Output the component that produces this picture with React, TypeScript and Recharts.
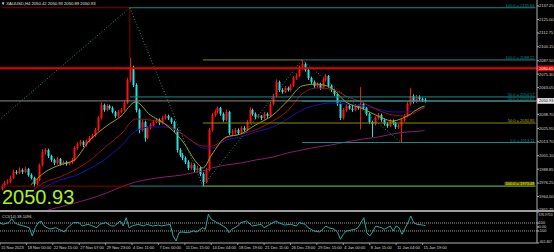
import React from 'react';
import { ComposedChart, Bar, Line, XAxis, YAxis, ReferenceLine } from 'recharts';

const FONT = 'Liberation Sans, Arial, sans-serif';

// ---------- candle data (H4 bars) ----------
const firstOpen = 1971.0;
const closes = [
  1973.6, 1976.3, 1977.2, 1980.9, 1986.3, 1985.4, 1988.1, 1986.3, 1989.0, 1983.6,
  1980.9, 1975.4, 1979.0, 1992.7, 2004.5, 2006.3, 2000.9, 1997.2, 1994.5, 1998.1,
  1993.6, 1995.4, 1993.6, 1994.5, 1997.2, 2008.1, 2011.8, 2013.6, 2010.9, 2014.5,
  2017.2, 2019.5, 2024.5, 2035.4, 2047.2, 2042.7, 2046.3, 2044.5, 2040.9, 2037.2,
  2040.9, 2042.7, 2049.1, 2070.0, 2080.9, 2065.4, 2042.7, 2024.5, 2031.8, 2017.2,
  2026.3, 2029.0, 2031.8, 2033.6, 2030.9, 2035.4, 2037.2, 2035.0, 2031.8, 2024.5,
  2006.3, 2001.8, 1999.0, 1995.4, 1989.9, 1992.7, 1988.1, 1989.9, 1984.5, 1977.2,
  1988.1, 2024.5, 2038.1, 2040.9, 2044.5, 2039.1, 2033.6, 2040.9, 2021.8, 2022.7,
  2024.5, 2021.8, 2026.3, 2024.5, 2031.8, 2042.7, 2039.1, 2036.3, 2037.5, 2035.4,
  2039.1, 2037.2, 2048.1, 2055.4, 2068.1, 2060.9, 2059.1, 2062.7, 2060.9, 2064.5,
  2071.8, 2073.6, 2080.9, 2084.5, 2079.1, 2071.8, 2068.1, 2064.5, 2066.3, 2062.7,
  2070.0, 2073.6, 2064.5, 2060.9, 2057.2, 2048.1, 2035.4, 2042.7, 2046.3, 2044.0,
  2042.7, 2046.3, 2044.5, 2048.1, 2044.5, 2039.1, 2031.8, 2030.0, 2035.4, 2038.1,
  2033.6, 2030.0, 2028.1, 2032.7, 2030.9, 2027.2, 2028.1, 2033.6, 2037.2, 2048.1,
  2055.4, 2050.0, 2054.5, 2052.7, 2051.8, 2050.93,
];
const highs = [
  1975, 1978, 1979.5, 1983, 1988.5, 1988, 1990.5, 1989.5, 1991, 1990,
  1985, 1982, 1980.5, 1994, 2007, 2008, 2007.5, 2002, 1998.5, 2000,
  1999, 1997, 1996.5, 1996, 1999, 2010, 2013.5, 2015.5, 2015, 2016,
  2019, 2021, 2026.5, 2037, 2049.5, 2048.5, 2048, 2047.5, 2046, 2042,
  2042.5, 2044.5, 2051, 2072, 2090, 2083, 2067, 2044, 2034, 2033,
  2028, 2031, 2033.5, 2035.5, 2035, 2037.5, 2039, 2038.5, 2036, 2033,
  2026, 2008, 2003.5, 2000.5, 1997, 1995, 1994, 1992, 1991, 1986,
  1990, 2026.5, 2040, 2043, 2046, 2045.5, 2040.5, 2043, 2042, 2025,
  2026.5, 2026, 2028, 2028, 2033.5, 2045, 2044, 2040.5, 2039, 2038,
  2041, 2040.5, 2050, 2057.5, 2070.5, 2069.5, 2062.5, 2064.5, 2064, 2066.5,
  2073.5, 2076, 2083, 2088.2, 2086, 2080.5, 2073, 2069.5, 2068, 2067.5,
  2072, 2075.5, 2074.5, 2066, 2062, 2058.5, 2049.5, 2044.5, 2048, 2047.5,
  2047.5, 2048, 2047.5, 2063.5, 2049.5, 2045.5, 2040.5, 2033, 2037, 2040,
  2039.5, 2035, 2031.5, 2034.5, 2034, 2032, 2030, 2035, 2039, 2050,
  2062.5, 2057, 2056.5, 2056, 2054, 2053.5,
];
const lows = [
  1969.5, 1972, 1975, 1976, 1980, 1984, 1984.5, 1984.5, 1985.5, 1982,
  1979.5, 1972.5, 1974, 1978, 1991.5, 2002, 1999, 1995.5, 1992.5, 1993,
  1992, 1992.5, 1992, 1992.5, 1993.5, 1996, 2006.5, 2010, 2009, 2009.5,
  2013, 2016.5, 2018, 2023.5, 2034, 2041, 2041.5, 2043, 2039.5, 2035.5,
  2036, 2039.5, 2041.5, 2048, 2068, 2063.5, 2040.5, 2021.5, 2023, 2014,
  2016, 2025, 2027.5, 2030.5, 2029, 2029.5, 2034, 2033.5, 2030, 2022.5,
  2004, 2000, 1997, 1993.5, 1988, 1988.5, 1986, 1986.5, 1982.5, 1973.5,
  1976, 1987, 2023, 2036.5, 2039.5, 2037.5, 2032, 2032.5, 2020, 2020,
  2021, 2020, 2020.5, 2023, 2023.5, 2030.5, 2037.5, 2034.5, 2035, 2033.5,
  2034, 2035.5, 2036, 2047, 2054, 2059, 2057.5, 2058, 2059.5, 2059.5,
  2063.5, 2070, 2072.5, 2079.5, 2077.5, 2070, 2066.5, 2062.5, 2063, 2061,
  2061.5, 2068.5, 2063, 2059, 2055.5, 2046.5, 2033.5, 2034, 2041, 2043,
  2041, 2041.5, 2043, 2025, 2043, 2037.5, 2030, 2018, 2028.5, 2034,
  2032, 2028.5, 2026.5, 2027, 2029, 2025.5, 2025.5, 2013.1, 2032, 2036,
  2047, 2048.5, 2049, 2051, 2050, 2049.5,
];

// ---------- moving averages (read at sample bars) ----------
const maIdx = [0, 5, 10, 15, 20, 25, 30, 36, 41, 46, 51, 56, 62, 67, 69, 72, 77, 82, 87, 93, 98, 103, 108, 113, 118, 124, 129, 134, 139, 144, 145];
const maFast = [null, null, 1974.5, 1986.3, 1992.7, 1997.2, 2014.5, 2028.1, 2037.2, 2050.0, 2038.1, 2030.0, 2014.5, 1994.5, 1989.9, 2001.8, 2018.1, 2020.9, 2029.0, 2038.1, 2050.9, 2064.5, 2066.3, 2062.7, 2050.0, 2043.6, 2037.2, 2032.7, 2037.2, 2045.4, 2046.3];
const maMid = [null, null, 1968.1, 1977.2, 1981.8, 1988.1, 1996.3, 2009.9, 2020.9, 2034.5, 2033.6, 2030.0, 2020.9, 2011.8, 2009.9, 2009.9, 2017.2, 2020.9, 2024.5, 2032.7, 2041.8, 2057.2, 2062.7, 2061.8, 2055.4, 2049.1, 2042.7, 2038.1, 2037.2, 2043.6, 2044.5];
const maSlow = [null, null, 1964.5, 1972.7, 1979.0, 1982.7, 1989.0, 1999.0, 2009.9, 2023.6, 2027.2, 2027.2, 2020.9, 2010.9, 2008.1, 2008.1, 2015.4, 2018.1, 2022.7, 2027.2, 2034.5, 2042.7, 2047.2, 2049.1, 2048.1, 2046.3, 2043.6, 2040.9, 2040.9, 2044.5, 2045.4];
const maLong = [null, null, null, 1951.0, 1954.5, 1958.1, 1961.7, 1967.2, 1972.7, 1977.2, 1979.9, 1981.8, 1983.6, 1986.3, 1987.2, 1989.9, 1992.7, 1994.5, 1997.2, 1999.9, 2003.6, 2006.3, 2009.0, 2010.9, 2013.6, 2016.3, 2018.1, 2020.9, 2022.7, 2023.6, 2024.5];

// ---------- CCI(14) ----------
const cciIdx = [0, 1, 3, 4, 5, 6, 8, 10, 11, 12, 13, 14, 15, 17, 19, 20, 22, 23, 25, 27, 28, 30, 33, 34, 36, 38, 39, 41, 42, 43, 44, 45, 47, 49, 50, 52, 54, 55, 58, 59, 60, 61, 62, 64, 66, 67, 69, 70, 71, 72, 74, 75, 77, 78, 79, 81, 82, 84, 86, 89, 90, 92, 94, 95, 97, 99, 101, 102, 104, 105, 107, 109, 111, 112, 114, 115, 116, 117, 118, 121, 122, 123, 124, 125, 126, 127, 128, 130, 131, 133, 134, 135, 136, 137, 139, 140, 141, 142, 144, 145];
const cciVal = [108, 68, 108, 208, 108, 68, 25, -18, -226, -18, 108, 151, 25, -51, -18, -58, -126, -18, 108, 108, 25, 68, -18, 68, 108, 25, 25, 151, 25, 234, -18, 25, 68, 25, 68, 25, 48, 25, 68, -226, -352, -144, -126, -144, -101, -126, -18, -58, 319, 193, 108, 68, -18, -144, -58, 25, 108, 151, 25, 68, -18, 68, 151, 108, 48, 68, 25, 108, 68, -18, -101, -126, 25, -18, -58, -126, -309, -184, -101, -58, -18, 108, 234, -144, -226, -126, 25, -18, -58, 25, -101, 25, -18, -184, 108, 276, 108, 68, 48, 38.11];

// ---------- axes ----------
const priceTicks = [2137.25, 2125.0, 2112.75, 2100.15, 2087.5, 2075.3, 2063.05, 2038.7, 2025.95, 2013.7, 2001.1, 1988.85, 1976.25, 1964.0, 1951.75];
const timeIdx = [0, 9, 18, 27, 36, 45, 54, 63, 72, 81, 90, 99, 108, 117, 126, 135, 144];
const timeLabels = ['15 Nov 2023', '18 Nov 00:00', '22 Nov 15:00', '27 Nov 07:00', '29 Nov 23:00', '4 Dec 11:00', '7 Dec 00:00', '11 Dec 15:00', '14 Dec 04:00', '18 Dec 19:00', '21 Dec 11:00', '26 Dec 23:00', '29 Dec 15:00', '4 Jan 00:00', '8 Jan 15:00', '11 Jan 04:00', '15 Jan 19:00'];
const cciTicks = [376.9753, 100, 0, -100, -402.467];
const cciTickLabels = ['376.9753', '100', '0.00', '-100', '-402.467'];
const TOTAL = 184;
const LAST = TOTAL - 1;

// ---------- drawing objects (price levels) ----------
const fibHigh = 2135.66;
const fibLow = 1973.48;
const swingHigh = 2088.22;
const swingLow = 2013.11;
const fibA50 = 2054.57;
const fibC50 = 2050.67;
const fibB50 = 2030.85;
const redLevel = 2080.65;
const lastPrice = 2050.93;
const trendStart = 2035.4;
const peakWickTop = 2090.0;

const rows: any[] = Array.from({ length: TOTAL }, (_, i) => {
  const r: any = { idx: i };
  if (i < closes.length) {
    r.o = i === 0 ? firstOpen : closes[i - 1];
    r.c = closes[i];
    r.h = highs[i];
    r.l = lows[i];
    r.range = [lows[i], highs[i]];
  }
  return r;
});
maIdx.forEach((k, n) => {
  if (maFast[n] != null) rows[k].maFast = maFast[n];
  if (maMid[n] != null) rows[k].maMid = maMid[n];
  if (maSlow[n] != null) rows[k].maSlow = maSlow[n];
  if (maLong[n] != null) rows[k].maLong = maLong[n];
});
cciIdx.forEach((k, n) => {
  rows[k].cci = cciVal[n];
});

const Candle = (props: any) => {
  let { x, y, width, height } = props;
  const p = props.payload;
  if (!p || p.c == null || !height) return <g />;
  if (height < 0) {
    y += height;
    height = -height;
  }
  const k = height / (p.h - p.l);
  const cx = Math.round(x + width / 2) + 0.5;
  const yO = y + (p.h - p.o) * k;
  const yC = y + (p.h - p.c) * k;
  const up = p.c >= p.o;
  const color = up ? '#ff1010' : '#22e2e2';
  const top = Math.min(yO, yC);
  const bh = Math.max(1, Math.abs(yC - yO));
  return (
    <g>
      <line x1={cx} x2={cx} y1={y} y2={y + height} stroke={color} strokeWidth={1} />
      <rect x={cx - 1} y={top} width={2} height={bh} fill={color} />
    </g>
  );
};

const PriceTick = (props: any) => {
  const { x, y, payload } = props;
  return (
    <text x={x} y={y + 1.4} fontSize={4} fill="#d8d8d8" fontFamily={FONT} textAnchor="start">
      {Number(payload.value).toFixed(2)}
    </text>
  );
};

const CciTick = (props: any) => {
  const { x, y, payload } = props;
  const n = cciTicks.indexOf(payload.value);
  const dy = n === 0 ? 3.5 : n === cciTicks.length - 1 ? -0.5 : 1.4;
  const fs = n === 0 || n === cciTicks.length - 1 ? 3.4 : 4;
  return (
    <text x={x - 0.5} y={y + dy} fontSize={fs} fill="#d8d8d8" fontFamily={FONT} textAnchor="start">
      {n >= 0 ? cciTickLabels[n] : ''}
    </text>
  );
};

const TimeTick = (props: any) => {
  const { x, y, payload } = props;
  const n = timeIdx.indexOf(payload.value);
  if (n < 0) return <g />;
  return (
    <g>
      <line x1={x} x2={x} y1={y} y2={y + 2} stroke="#b0b0b0" strokeWidth={0.8} />
      <text x={x + 1} y={y + 5.8} fontSize={4} fill="#d8d8d8" fontFamily={FONT} textAnchor="start">
        {timeLabels[n]}
      </text>
    </g>
  );
};

const levelLabel = (text: string, color: string, bg?: string) => (p: any) => {
  const vb = p && p.viewBox ? p.viewBox : { x: 0, y: 0, width: 0 };
  const xr = (vb.x || 0) + (vb.width || 0) - 1;
  const yy = (vb.y || 0) - 0.8;
  return (
    <g>
      {bg ? <rect x={xr - 30} y={yy - 3.6} width={30} height={4.4} fill={bg} /> : null}
      <text x={xr} y={yy} fontSize={4} fill={color} fontFamily={FONT} textAnchor="end">
        {text}
      </text>
    </g>
  );
};

const axisBox = (text: string, bg: string, fg: string) => (p: any) => {
  const vb = p && p.viewBox ? p.viewBox : { x: 0, y: 0, width: 0 };
  const x0 = (vb.x || 0) + (vb.width || 0);
  const yy = vb.y || 0;
  return (
    <g>
      <rect x={x0} y={yy - 2.8} width={17} height={5.6} fill={bg} />
      <text x={x0 + 2} y={yy + 1.5} fontSize={4} fill={fg} fontFamily={FONT} textAnchor="start">
        {text}
      </text>
    </g>
  );
};

const TEAL = '#178c8c';
const OLIVE = '#8c8c00';
const DARKRED = '#8a0000';
const DOT = '#159a66';

export default function App() {
  return (
    <div style={{ position: 'fixed', left: 0, top: 0, width: 554, height: 252, background: '#000', overflow: 'hidden' }}>
      <div style={{ position: 'absolute', left: 0, top: 0 }}>
        <ComposedChart width={554} height={212} data={rows} margin={{ top: 0, right: 0, bottom: 2, left: 0 }} barCategoryGap={0} barGap={0}>
          <XAxis dataKey="idx" type="category" hide />
          <YAxis
            orientation="right"
            width={17}
            type="number"
            domain={[1951.75, 2142.71]}
            allowDataOverflow
            ticks={priceTicks}
            interval={0}
            tick={PriceTick}
            tickSize={2}
            tickMargin={0}
            tickLine={{ stroke: '#b0b0b0' }}
            axisLine={{ stroke: '#b0b0b0' }}
          />
          <Bar dataKey="range" shape={Candle} isAnimationActive={false} />
          <Line type="monotone" dataKey="maLong" stroke="#8a1a70" dot={false} activeDot={false} connectNulls strokeWidth={1} isAnimationActive={false} />
          <Line type="monotone" dataKey="maSlow" stroke="#1414b4" dot={false} activeDot={false} connectNulls strokeWidth={1} isAnimationActive={false} />
          <Line type="monotone" dataKey="maMid" stroke="#9a1010" dot={false} activeDot={false} connectNulls strokeWidth={1} isAnimationActive={false} />
          <Line type="monotone" dataKey="maFast" stroke="#a0a018" dot={false} activeDot={false} connectNulls strokeWidth={1} isAnimationActive={false} />

          <ReferenceLine segment={[{ x: 0, y: fibHigh }, { x: 44, y: fibHigh }]} stroke={DARKRED} />
          <ReferenceLine segment={[{ x: 44, y: fibHigh }, { x: 44, y: peakWickTop }]} stroke={DARKRED} />
          <ReferenceLine segment={[{ x: 44, y: fibHigh }, { x: LAST, y: fibHigh }]} stroke={TEAL} label={levelLabel('100.0 = 2135.66', TEAL)} />
          <ReferenceLine segment={[{ x: 0, y: trendStart }, { x: 44, y: fibHigh }]} stroke={DOT} strokeDasharray="1 2" />
          <ReferenceLine segment={[{ x: 44, y: fibHigh }, { x: 69, y: fibLow }]} stroke={DOT} strokeDasharray="1 2" />
          <ReferenceLine segment={[{ x: 69, y: fibLow }, { x: 103, y: swingHigh }]} stroke={DOT} strokeDasharray="1 2" />
          <ReferenceLine segment={[{ x: 103, y: swingHigh }, { x: 137, y: swingLow }]} stroke={DOT} strokeDasharray="1 2" />

          <ReferenceLine y={redLevel} stroke="#e80000" strokeWidth={2} label={axisBox('2080.65', '#e80000', '#ffffff')} />
          <ReferenceLine segment={[{ x: 69, y: swingHigh }, { x: 103, y: swingHigh }]} stroke={OLIVE} />
          <ReferenceLine segment={[{ x: 103, y: swingHigh }, { x: LAST, y: swingHigh }]} stroke={TEAL} label={levelLabel('100.0 = 2088.22', TEAL)} />
          <ReferenceLine segment={[{ x: 44, y: fibA50 }, { x: LAST, y: fibA50 }]} stroke={TEAL} label={levelLabel('50.0 = 2054.57', TEAL)} />
          <ReferenceLine y={lastPrice} stroke="#8c8c8c" label={axisBox('2050.93', '#e8e8e8', '#000000')} />
          <ReferenceLine segment={[{ x: 103, y: fibC50 }, { x: LAST, y: fibC50 }]} stroke={TEAL} label={levelLabel('50.0 = 2050.67', TEAL)} />
          <ReferenceLine segment={[{ x: 69, y: fibB50 }, { x: LAST, y: fibB50 }]} stroke={OLIVE} label={levelLabel('50.0 = 2030.85', '#b4b400')} />
          <ReferenceLine segment={[{ x: 103, y: swingLow }, { x: LAST, y: swingLow }]} stroke={TEAL} label={levelLabel('0.0 = 2013.11', TEAL)} />
          <ReferenceLine segment={[{ x: 0, y: fibLow }, { x: 44, y: fibLow }]} stroke={DARKRED} />
          <ReferenceLine segment={[{ x: 44, y: fibLow }, { x: 69, y: fibLow }]} stroke={TEAL} />
          <ReferenceLine segment={[{ x: 69, y: fibLow }, { x: LAST, y: fibLow }]} stroke="#7ccc3c" label={levelLabel('100.0 = 1973.48', '#e8e800', '#5a5a00')} />
        </ComposedChart>
      </div>

      <div style={{ position: 'absolute', left: 0, top: 210, width: 554, height: 2, background: '#9c9c9c' }} />

      <div style={{ position: 'absolute', left: 0, top: 212 }}>
        <ComposedChart width={554} height={40} data={rows} margin={{ top: 0, right: 0, bottom: 0, left: 0 }}>
          <XAxis
            dataKey="idx"
            type="category"
            interval={0}
            height={9}
            tick={TimeTick}
            tickSize={0}
            tickMargin={0}
            tickLine={false}
            axisLine={{ stroke: '#b0b0b0' }}
          />
          <YAxis
            orientation="right"
            width={17}
            type="number"
            domain={[-402.467, 376.9753]}
            allowDataOverflow
            ticks={cciTicks}
            interval={0}
            tick={CciTick}
            tickSize={2}
            tickMargin={0}
            tickLine={{ stroke: '#b0b0b0' }}
            axisLine={{ stroke: '#b0b0b0' }}
          />
          <ReferenceLine y={100} stroke="#9a9a9a" strokeDasharray="1 1" />
          <ReferenceLine y={-100} stroke="#9a9a9a" strokeDasharray="1 1" />
          <Line type="linear" dataKey="cci" stroke="#2aa99c" dot={false} activeDot={false} connectNulls strokeWidth={1} isAnimationActive={false} />
        </ComposedChart>
      </div>

      <svg style={{ position: 'absolute', left: 0, top: 0, pointerEvents: 'none' }} width={554} height={252}>
        <text x={1} y={4.5} fontSize={4.2} fill="#e0e0e0" fontFamily={FONT}>
          ▼ XAUUSD,H4  2050.42 2050.93 2050.89 2050.93
        </text>
        <text x={2} y={204} fontSize={20} fill="#a8f02c" fontFamily={FONT}>
          2050.93
        </text>
        <text x={2} y={217.5} fontSize={4} fill="#d8d8d8" fontFamily={FONT}>
          CCI(14) 38.1096
        </text>
      </svg>
    </div>
  );
}
